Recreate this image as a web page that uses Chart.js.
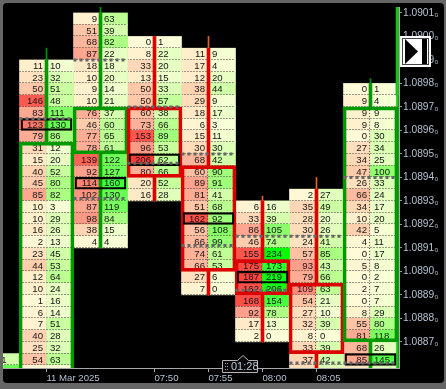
<!DOCTYPE html>
<html lang="en">
<head>
<meta charset="UTF-8">
<title>EUR footprint chart</title>
<script src="https://cdn.jsdelivr.net/npm/chart.js"></script>
<style>
    html, body { margin: 0; padding: 0; background: #666666; overflow: hidden; }
    #panel { position: absolute; left: 3px; top: 3px; width: 441px; height: 380px; background: #000; border-radius: 4px; }
    canvas { position: absolute; left: 0; top: 0; }
</style>
</head>
<body>
<div id="panel"></div>
<canvas id="chart" width="446" height="389"></canvas>
<script>
// footprint rows, top row first: bids are the left cell, asks the right cell
const bidsPrev = [22, 64];
const asksPrev = [41, 130];
const bidsA = [11, 23, 50, 146, 83, 123, 79, 31, 15, 40, 45, 85, 10, 10, 16, 2, 23, 44, 12, 10, 1, 6, 7, 40, 25, 54, 3];
const asksA = [10, 32, 51, 48, 111, 130, 86, 12, 20, 52, 80, 82, 3, 29, 26, 13, 45, 53, 64, 24, 16, 14, 51, 28, 32, 63, 5];
const bidsB = [9, 51, 68, 87, 18, 10, 9, 10, 76, 46, 77, 78, 139, 92, 114, 102, 87, 98, 38, 4];
const asksB = [63, 39, 82, 22, 18, 20, 14, 21, 37, 60, 65, 61, 122, 127, 160, 130, 119, 84, 15, 4];
const bidsC = [0, 8, 33, 13, 50, 50, 60, 73, 153, 96, 206, 80, 20, 16];
const asksC = [1, 22, 20, 15, 33, 57, 38, 66, 89, 53, 62, 66, 52, 28];
const bidsD = [11, 17, 12, 38, 29, 18, 6, 15, 30, 68, 60, 89, 81, 51, 162, 56, 66, 74, 66, 27, 7];
const asksD = [9, 4, 20, 44, 9, 17, 3, 11, 30, 42, 90, 91, 41, 68, 92, 108, 99, 61, 53, 6, 0];
const bidsE = [6, 33, 86, 46, 155, 175, 187, 162, 168, 92, 17, 2];
const asksE = [16, 39, 105, 74, 234, 173, 219, 206, 154, 78, 13, 0];
const bidsF = [2, 35, 28, 30, 24, 57, 93, 79, 109, 54, 27, 32, 8, 33, 37, 28];
const asksF = [27, 49, 20, 26, 41, 85, 43, 66, 63, 21, 10, 39, 0, 39, 42, 30];
const bidsG = [0, 9, 9, 9, 0, 27, 34, 47, 26, 66, 34, 10, 42, 4, 0, 5, 0, 2, 0, 8, 55, 81, 68, 85, 20];
const asksG = [1, 4, 9, 8, 30, 34, 25, 100, 33, 24, 17, 20, 5, 11, 17, 8, 2, 7, 7, 29, 80, 118, 26, 145, 30];

const allBids = [bidsPrev, bidsA, bidsB, bidsC, bidsD, bidsE, bidsF, bidsG];
const allAsks = [asksPrev, asksA, asksB, asksC, asksD, asksE, asksF, asksG];

// per column: slot on the time axis, price levels
const colSlot = [-1, 0, 1, 2, 3, 4, 5, 6];
const colTop = [1.08865, 1.0899, 1.0901, 1.09, 1.08995, 1.0893, 1.08935, 1.0898];
const bodyHigh = [null, 1.08955, 1.0897, 1.0897, 1.08945, 1.08905, 1.08895, 1.0897];
const bodyLow = [null, 1.08855, 1.0895, 1.0894, 1.089, 1.0889, 1.08865, 1.0887];
const wickHigh = [null, 1.08995, 1.0902, 1.09, 1.09, 1.08932, 1.0894, 1.08982];
const isUp = [true, true, true, false, false, false, false, true];
const pocPrice = [null, 1.08965, 1.0894, 1.0895, 1.08925, 1.089, null, 1.08865];
const vahLevel = [null, 1.08965, 1.0899, 1.0897, 1.0895, 1.08915, 1.08915, 1.0894];
const valLevel = [null, null, 1.08931, 1.08946, 1.08911, 1.08892, 1.08861, 1.08861];

const rowStep = 0.00005;
const priceTicks = [1.0901, 1.09, 1.0899, 1.0898, 1.0897, 1.0896, 1.0895, 1.0894, 1.0893, 1.0892, 1.0891, 1.089, 1.0889, 1.0888, 1.0887];
const timeSlots = [0, 2, 3, 4, 5];
const timeLabels = ['11 Mar 2025', '07:50', '07:55', '08:00', '08:05'];
const edgeSlot = 6.5;
const edgeUpper = [1.08975, 1.0903];
const edgeLower = [1.08855, 1.0903];

function mix(stops, v) {
    let i = 0;
    while (i < stops.length - 2 && v > stops[i + 1][0]) i++;
    const a = stops[i], b = stops[i + 1];
    const t = Math.min(1, Math.max(0, (v - a[0]) / (b[0] - a[0])));
    const c = [1, 2, 3].map(k => Math.round(a[k] + (b[k] - a[k]) * t));
    return `rgb(${c[0]},${c[1]},${c[2]})`;
}
const bidStops = [[0, 255, 250, 216], [10, 255, 240, 204], [50, 255, 200, 168], [90, 255, 162, 142], [146, 255, 90, 80], [206, 255, 58, 58]];
const askStops = [[0, 251, 255, 216], [10, 242, 255, 208], [50, 202, 255, 160], [85, 168, 255, 128], [115, 124, 255, 96], [170, 50, 255, 50], [234, 0, 255, 0]];

function cells(source, side) {
    const out = [];
    source.forEach((vals, c) => {
        vals.forEach((v, j) => {
            const top = colTop[c] - j * rowStep;
            out.push({ x: colSlot[c] + side * 0.25, y: [top - rowStep, top], v: v });
        });
    });
    return out;
}

const bidCells = cells(allBids, -1);
const askCells = cells(allAsks, 1);

const bodies = [], thickWicks = [], thinWicks = [], pocs = [];
const dashes = [];
colSlot.forEach((s, c) => {
    const low = colTop[c] - allBids[c].length * rowStep;
    if (bodyHigh[c] !== null) {
        bodies.push({ x: s, y: [bodyLow[c], bodyHigh[c]], up: isUp[c] });
        if (colTop[c] > bodyHigh[c]) thickWicks.push({ x: s, y: [bodyHigh[c], colTop[c]], up: isUp[c] });
        if (low < bodyLow[c]) thickWicks.push({ x: s, y: [low, bodyLow[c]], up: isUp[c] });
        if (wickHigh[c] > colTop[c]) thinWicks.push({ x: s, y: [colTop[c], wickHigh[c]], up: isUp[c] });
    }
    if (pocPrice[c] !== null) pocs.push({ x: s, y: [pocPrice[c] - rowStep, pocPrice[c]] });
    [vahLevel[c], valLevel[c]].forEach(level => {
        if (level !== null) {
            dashes.push({ x: s - 0.5, y: level }, { x: s + 0.5, y: level }, { x: s + 0.5, y: null });
        }
    });
});

const upColor = '#009a00', downColor = '#dc0000';

const cellText = {
    id: 'cellText',
    afterDatasetDraw(chart, args) {
        const ds = chart.data.datasets[args.index];
        if (!ds.isCells) return;
        const ctx = chart.ctx, area = chart.chartArea;
        ctx.save();
        ctx.beginPath();
        ctx.rect(area.left, area.top, area.right - area.left, area.bottom - area.top);
        ctx.clip();
        ctx.strokeStyle = '#3c3c3c';
        ctx.lineWidth = 1;
        ctx.setLineDash([1, 2]);
        args.meta.data.forEach(el => {
            const l = el.x - el.width / 2, r = el.x + el.width / 2;
            const bottom = Math.round(el.base) - 0.5;
            ctx.beginPath();
            ctx.moveTo(l, bottom);
            ctx.lineTo(r, bottom);
            if (ds.side < 0) {
                ctx.moveTo(Math.round(r) - 0.5, Math.min(el.y, el.base));
                ctx.lineTo(Math.round(r) - 0.5, Math.max(el.y, el.base));
            }
            ctx.stroke();
        });
        ctx.setLineDash([]);
        ctx.fillStyle = '#151515';
        ctx.font = '9.6px "Liberation Sans", Arial, sans-serif';
        ctx.textBaseline = 'middle';
        args.meta.data.forEach((el, i) => {
            const y = (el.y + el.base) / 2 + 0.5;
            const v = String(ds.data[i].v);
            if (ds.side < 0) {
                ctx.textAlign = 'right';
                ctx.fillText(v, el.x + el.width / 2 - 3.5, y);
            } else {
                ctx.textAlign = 'left';
                ctx.fillText(v, el.x - el.width / 2 + 3.5, y);
            }
        });
        ctx.restore();
    }
};

// chart furniture: skip button and bar timer
const overlays = {
    id: 'overlays',
    afterDraw(chart) {
        const ctx = chart.ctx;
        ctx.save();
        ctx.fillStyle = '#ffffff';
        ctx.fillRect(400, 36, 31, 31);
        ctx.strokeStyle = '#444';
        ctx.lineWidth = 1;
        ctx.strokeRect(402.5, 38.5, 26, 26);
        ctx.fillStyle = '#000';
        ctx.beginPath();
        ctx.moveTo(405, 39);
        ctx.lineTo(418, 51.5);
        ctx.lineTo(405, 64);
        ctx.closePath();
        ctx.fill();
        ctx.fillRect(422, 39, 5, 25);

        ctx.fillStyle = '#0a0a0a';
        ctx.strokeStyle = '#b4b4b4';
        ctx.beginPath();
        ctx.moveTo(222.5, 360.5);
        ctx.lineTo(237.5, 360.5);
        ctx.lineTo(243, 355.5);
        ctx.lineTo(248.5, 360.5);
        ctx.lineTo(257.5, 360.5);
        ctx.lineTo(257.5, 372.5);
        ctx.lineTo(222.5, 372.5);
        ctx.closePath();
        ctx.fill();
        ctx.stroke();
        ctx.fillStyle = '#9aa6b4';
        [363, 366, 369].forEach(y => {
            ctx.fillRect(225, y, 1, 1);
            ctx.fillRect(227, y, 1, 1);
        });
        ctx.fillStyle = '#b9c6d6';
        ctx.font = '11px "Liberation Sans", Arial, sans-serif';
        ctx.textAlign = 'left';
        ctx.textBaseline = 'middle';
        ctx.fillText('01:28', 231, 367);
        ctx.restore();
    }
};

new Chart(document.getElementById('chart'), {
    data: {
        datasets: [
            { type: 'bar', isCells: true, side: -1, data: bidCells, order: 9, barThickness: 27, grouped: false,
              backgroundColor: bidCells.map(d => mix(bidStops, d.v)) },
            { type: 'bar', isCells: true, side: 1, data: askCells, order: 8, barThickness: 27, grouped: false,
              backgroundColor: askCells.map(d => mix(askStops, d.v)) },
            { type: 'bar', data: [{ x: edgeSlot, y: edgeLower }], order: 7, barThickness: 2, grouped: false, backgroundColor: '#1fc41f' },
            { type: 'bar', data: [{ x: edgeSlot, y: edgeUpper }], order: 7, barThickness: 3, grouped: false, backgroundColor: '#00a000' },
            { type: 'bar', data: thinWicks, order: 6, barThickness: 1, grouped: false,
              backgroundColor: thinWicks.map(d => d.up ? upColor : '#e8602a') },
            { type: 'bar', data: thickWicks, order: 5, barThickness: 3, grouped: false,
              backgroundColor: thickWicks.map(d => d.up ? upColor : downColor) },
            { type: 'bar', data: bodies, order: 4, barThickness: 55, grouped: false, borderSkipped: false, borderWidth: 3,
              backgroundColor: 'transparent', borderColor: bodies.map(d => d.up ? upColor : downColor) },
            { type: 'bar', data: pocs, order: 3, barThickness: 51, grouped: false, borderSkipped: false, borderWidth: 1.5,
              backgroundColor: 'transparent', borderColor: '#000' },
            { type: 'line', data: dashes, order: 2, borderColor: '#666666', borderWidth: 3, borderDash: [3, 3],
              pointRadius: 0, spanGaps: false, tension: 0 }
        ]
    },
    options: {
        responsive: false,
        animation: false,
        events: [],
        layout: { autoPadding: false, padding: { left: 3, top: 3, right: 0, bottom: 6 } },
        plugins: { legend: { display: false }, tooltip: { enabled: false } },
        scales: {
            x: {
                type: 'linear',
                offset: false,
                min: -0.8056,
                max: 6.528,
                afterBuildTicks: axis => { axis.ticks = timeSlots.map(v => ({ value: v })); },
                afterFit: axis => { axis.height = 15; },
                grid: { offset: false, drawOnChartArea: false, tickLength: 4, tickColor: '#a8a8a8' },
                border: { color: '#a8a8a8' },
                ticks: {
                    autoSkip: false,
                    maxRotation: 0,
                    align: 'start',
                    padding: 1,
                    color: '#b4c2d2',
                    font: { family: '"Liberation Sans", Arial, sans-serif', size: 9.6 },
                    callback: v => timeLabels[timeSlots.indexOf(v)]
                }
            },
            y: {
                position: 'right',
                min: 1.08858864,
                max: 1.09012483,
                afterBuildTicks: axis => { axis.ticks = priceTicks.map(v => ({ value: v })); },
                afterFit: axis => { axis.width = 47; },
                grid: { drawOnChartArea: false, tickLength: 3, tickColor: '#8c9aa8' },
                border: { color: '#b0b0b0' },
                ticks: {
                    autoSkip: false,
                    padding: 1,
                    crossAlign: 'near',
                    color: '#b4c2d2',
                    font: { family: '"Liberation Sans", Arial, sans-serif', size: 10.2 },
                    callback: v => v.toFixed(4) + '\u2080'
                }
            }
        }
    },
    plugins: [cellText, overlays]
});
</script>
</body>
</html>
